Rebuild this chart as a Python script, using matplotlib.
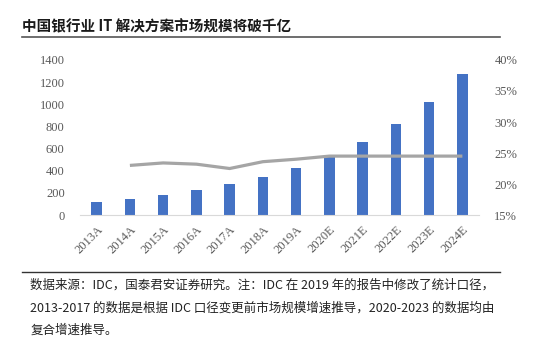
import matplotlib
matplotlib.use('Agg')
import matplotlib.pyplot as plt
from matplotlib.lines import Line2D

plt.rcParams['font.family'] = ['Liberation Serif', 'Noto Sans CJK SC', 'DejaVu Sans']

years = ['2013A', '2014A', '2015A', '2016A', '2017A', '2018A', '2019A',
         '2020E', '2021E', '2022E', '2023E', '2024E']
market = [120, 147, 183, 226, 277, 343, 425, 527, 659, 819, 1024, 1274]
# 增速 (%), 2013A 没有
growth_years = years[1:]
growth = [23.0, 23.4, 23.2, 22.5, 23.6, 24.0, 24.5, 24.5, 24.5, 24.5, 24.5]

title = '中国银行业 IT 解决方案市场规模将破千亿'
note = ['数据来源：IDC，国泰君安证券研究。注：IDC 在 2019 年的报告中修改了统计口径，',
        '2013-2017 的数据是根据 IDC 口径变更前市场规模增速推导，2020-2023 的数据均由',
        '复合增速推导。']

fig = plt.figure(figsize=(5.53, 3.56), dpi=100)
ax = fig.add_axes([0.1447, 0.396, 0.7215, 0.4355])
ax2 = ax.twinx()

xs = list(range(len(years)))
ax.bar(xs, market, width=0.32, color='#4472C4', zorder=2)
gx = [years.index(y) for y in growth_years]
ax2.plot(gx, growth, color='#A5A5A5', lw=2.3, solid_capstyle='butt', zorder=3)

ax.set_xlim(-0.5, len(years) - 0.5)
ax.set_ylim(0, 1400)
ax.set_yticks(range(0, 1401, 200))
ax2.set_ylim(15, 40)
ax2.set_yticks(range(15, 41, 5))
ax2.set_yticklabels([f'{v}%' for v in range(15, 41, 5)])

ax.set_xticks(xs)
ax.set_xticklabels(years, rotation=45, ha='right', rotation_mode='anchor')

for a in (ax, ax2):
    for s in ('top', 'left', 'right', 'bottom'):
        a.spines[s].set_visible(False)
    a.tick_params(length=0, labelsize=9, labelcolor='#595959')
ax.spines['bottom'].set_visible(True)
ax.spines['bottom'].set_color('#D9D9D9')
ax.tick_params(axis='y', pad=11)
ax.tick_params(axis='x', pad=6)
ax2.tick_params(axis='y', pad=11)

fig.text(0.04, 0.925, title, fontsize=10.5, fontweight='bold',
         family=['Noto Sans CJK SC'], va='center', color='#1a1a1a')
fig.add_artist(Line2D([0.04, 0.905], [0.895, 0.895], color='#555555', lw=1.2))
fig.add_artist(Line2D([0.04, 0.905], [0.236, 0.236], color='#333333', lw=1.0))

for i, line in enumerate(note):
    fig.text(0.055, 0.199 - i * 0.064, line, fontsize=9.0,
             family=['Noto Sans CJK SC'], va='center', color='#222222')

fig.savefig('out.png', dpi=100)
